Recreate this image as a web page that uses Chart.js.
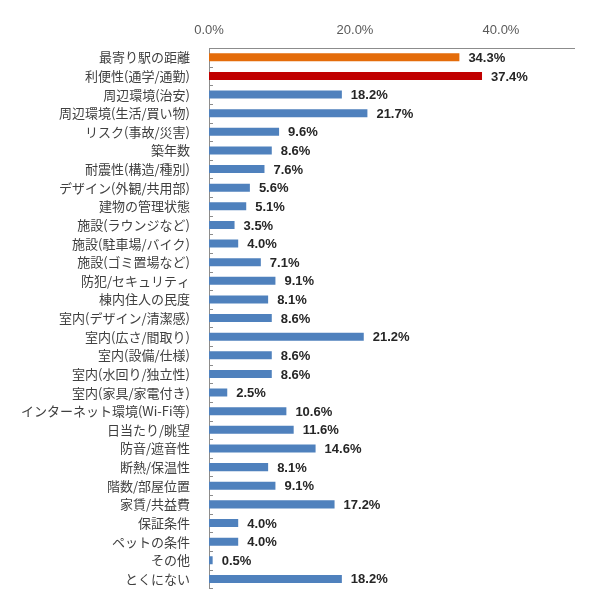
<!DOCTYPE html>
<html>
<head>
<meta charset="utf-8">
<script src="https://cdn.jsdelivr.net/npm/chart.js@4/dist/chart.umd.min.js"></script>
<style>
  html, body { margin: 0; padding: 0; background: #fff; }
  #wrap { width: 601px; height: 607px; }
</style>
</head>
<body>
<div id="wrap"><canvas id="chart"></canvas></div>
<script>
const categories = [
  '最寄り駅の距離', '利便性(通学/通勤)', '周辺環境(治安)', '周辺環境(生活/買い物)',
  'リスク(事故/災害)', '築年数', '耐震性(構造/種別)', 'デザイン(外観/共用部)',
  '建物の管理状態', '施設(ラウンジなど)', '施設(駐車場/バイク)', '施設(ゴミ置場など)',
  '防犯/セキュリティ', '棟内住人の民度', '室内(デザイン/清潔感)', '室内(広さ/間取り)',
  '室内(設備/仕様)', '室内(水回り/独立性)', '室内(家具/家電付き)', 'インターネット環境(Wi-Fi等)',
  '日当たり/眺望', '防音/遮音性', '断熱/保温性', '階数/部屋位置',
  '家賃/共益費', '保証条件', 'ペットの条件', 'その他', 'とくにない'
];
const values = [
  34.3, 37.4, 18.2, 21.7,
  9.6, 8.6, 7.6, 5.6,
  5.1, 3.5, 4.0, 7.1,
  9.1, 8.1, 8.6, 21.2,
  8.6, 8.6, 2.5, 10.6,
  11.6, 14.6, 8.1, 9.1,
  17.2, 4.0, 4.0, 0.5, 18.2
];
const xTicks = [0, 20, 40];
const xMax = 50;

const barColors = values.map((v, i) => i === 0 ? '#E46C0A' : (i === 1 ? '#C00000' : '#4F81BD'));

// value labels to the right of each bar
const valueLabels = {
  id: 'valueLabels',
  afterDatasetsDraw(chart) {
    const ctx = chart.ctx;
    const meta = chart.getDatasetMeta(0);
    ctx.save();
    ctx.font = 'bold 13px "Liberation Sans", Arial, sans-serif';
    ctx.fillStyle = '#262626';
    ctx.textAlign = 'left';
    ctx.textBaseline = 'middle';
    meta.data.forEach((bar, i) => {
      ctx.fillText(values[i].toFixed(1) + '%', bar.x + 9, bar.y + 1);
    });
    ctx.restore();
  }
};

// small tick marks on the inside of the category axis
const innerTicks = {
  id: 'innerTicks',
  afterDraw(chart) {
    const y = chart.scales.y;
    const ctx = chart.ctx;
    ctx.save();
    ctx.strokeStyle = '#8c8c8c';
    ctx.lineWidth = 1;
    ctx.beginPath();
    for (let i = 0; i <= categories.length; i++) {
      const py = Math.round(y.getPixelForValue(i - 0.5)) + 0.5;
      ctx.moveTo(y.right, py);
      ctx.lineTo(y.right + 4, py);
    }
    ctx.stroke();
    ctx.restore();
  }
};

new Chart(document.getElementById('chart'), {
  type: 'bar',
  data: {
    labels: categories,
    datasets: [{
      data: values,
      backgroundColor: barColors,
      borderWidth: 0,
      categoryPercentage: 1,
      barPercentage: 0.43
    }]
  },
  options: {
    indexAxis: 'y',
    responsive: true,
    maintainAspectRatio: false,
    animation: false,
    layout: { padding: { left: 0, right: 27, top: 8, bottom: 12 } },
    plugins: {
      legend: { display: false },
      tooltip: { enabled: false }
    },
    scales: {
      x: {
        position: 'top',
        min: 0,
        max: xMax,
        afterBuildTicks: s => { s.ticks = xTicks.map(v => ({ value: v })); },
        afterFit: s => { s.height = 40; },
        grid: { display: false },
        border: { display: true, color: '#8c8c8c', width: 1 },
        ticks: {
          padding: 2,
          color: '#595959',
          font: { size: 13, family: '"Liberation Sans", Arial, sans-serif' },
          callback: v => v.toFixed(1) + '%'
        }
      },
      y: {
        afterFit: s => { s.width = 209; },
        grid: { display: false },
        border: { display: true, color: '#8c8c8c', width: 1 },
        ticks: {
          autoSkip: false,
          padding: 11,
          color: '#404040',
          font: { size: 13, family: '"Noto Sans CJK JP", sans-serif' }
        }
      }
    }
  },
  plugins: [valueLabels, innerTicks]
});
</script>
</body>
</html>
